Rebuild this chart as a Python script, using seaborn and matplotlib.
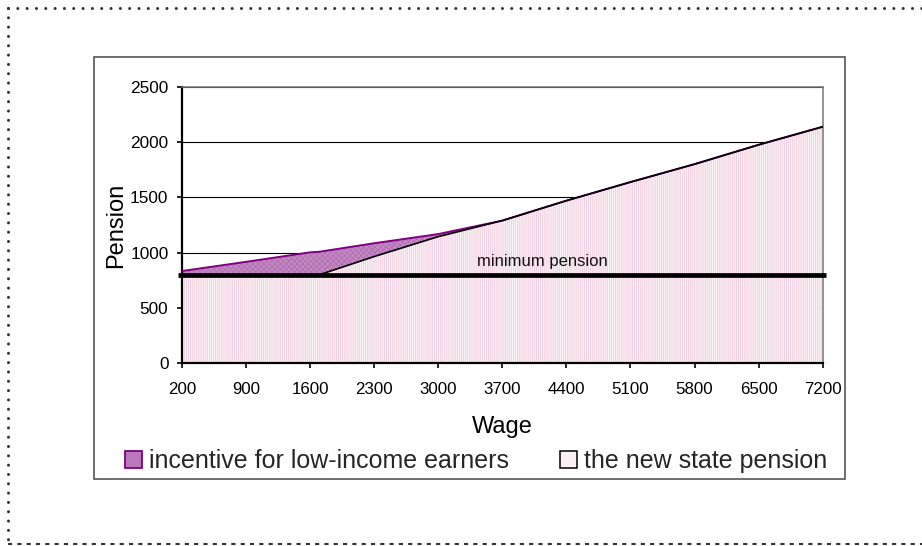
import matplotlib
matplotlib.use("Agg")
import matplotlib.pyplot as plt
from matplotlib.patches import Patch, Rectangle
from matplotlib.lines import Line2D
import seaborn as sns
import pandas as pd

# Wage grid (monthly wage) and pension amounts
wage = [200, 900, 1600, 1700, 2300, 3000, 3700, 4400, 5100, 5800, 6500, 7200]
state_pension = [800, 800, 800, 800, 965, 1145, 1290, 1470, 1638, 1800, 1975, 2138]
incentive = [34, 117, 203, 208, 120, 23, 0, 0, 0, 0, 0, 0]
minimum_pension = 800

wage_ticks = [200, 900, 1600, 2300, 3000, 3700, 4400, 5100, 5800, 6500, 7200]
pension_ticks = [0, 500, 1000, 1500, 2000, 2500]

series_labels = ["incentive for low-income earners", "the new state pension"]

df = pd.DataFrame({"wage": wage, "state": state_pension, "incentive": incentive})
df["total"] = df["state"] + df["incentive"]

sns.set_theme(style="white")
plt.rcParams["font.family"] = ["Liberation Sans", "DejaVu Sans"]
plt.rcParams["lines.scale_dashes"] = False
plt.rcParams["hatch.linewidth"] = 0.6

PINK_HATCH = "#f0cadb"
PURPLE_FACE = "#c489c4"
PURPLE_HATCH = "#b06fb0"
PURPLE_LINE = "#800080"

fig = plt.figure(figsize=(9.22, 5.46), dpi=100)
W, H = 922, 546

# page border (dotted) and chart frame
fig.add_artist(Line2D([8 / W, 1.0], [1 - 8 / H, 1 - 8 / H], color="#333333", lw=2.2,
                      linestyle=(0, (0.01, 6.7)), dash_capstyle="round"))
fig.add_artist(Line2D([8 / W, 8 / W], [1 - 8 / H, 1 - 544 / H], color="#333333", lw=2.2,
                      linestyle=(0, (0.01, 6.7)), dash_capstyle="round"))
fig.add_artist(Line2D([8 / W, 1.0], [1 - 544 / H, 1 - 544 / H], color="#333333", lw=1.5,
                      linestyle=(0, (3.0, 3.7))))
fig.add_artist(Rectangle((94 / W, 1 - 479 / H), (845 - 94) / W, (479 - 57) / H,
                         fill=False, edgecolor="#555555", lw=1.2, transform=fig.transFigure))

ax = fig.add_axes([182 / W, 1 - 363.3 / H, (822.7 - 182) / W, (363.3 - 86.7) / H])
ax.set_facecolor("white")

# stacked areas: state pension below, incentive on top
ax.fill_between(df["wage"], 0, df["state"], facecolor="#fbf3f6", edgecolor=PINK_HATCH,
                hatch="|" * 8, linewidth=0, zorder=1)
ax.fill_between(df["wage"], df["state"], df["total"], facecolor=PURPLE_FACE,
                edgecolor=PURPLE_HATCH, hatch="x" * 6, linewidth=0, zorder=1)

sns.lineplot(data=df, x="wage", y="total", ax=ax, color=PURPLE_LINE, lw=1.4, zorder=3)
sns.lineplot(data=df, x="wage", y="state", ax=ax, color="black", lw=1.2, zorder=3.5)

ax.axhline(minimum_pension, xmin=-0.007, xmax=1.005, color="black", lw=3.4,
           clip_on=False, zorder=4, solid_capstyle="butt")
ax.text(3420, minimum_pension + 80, "minimum pension", fontsize=12, ha="left",
        va="baseline", color="#111111", zorder=5)

ax.set_xlim(wage_ticks[0], wage_ticks[-1])
ax.set_ylim(pension_ticks[0], pension_ticks[-1])
ax.set_xticks(wage_ticks)
ax.set_xticklabels([str(v) for v in wage_ticks])
ax.set_yticks(pension_ticks)
ax.yaxis.grid(True, color="black", lw=0.8)
ax.xaxis.grid(False)
ax.set_axisbelow(True)

ax.tick_params(axis="x", bottom=True, direction="out", length=3.5, width=1.2,
               pad=10, labelsize=12.2, colors="black")
ax.tick_params(axis="y", left=True, direction="out", length=3.3, width=1.2,
               pad=6.5, labelsize=12.4, colors="black")

for side in ("left", "bottom"):
    ax.spines[side].set_color("black")
    ax.spines[side].set_linewidth(1.6)
for side in ("top", "right"):
    ax.spines[side].set_color("#777777")
    ax.spines[side].set_linewidth(1.1)

ax.set_xlabel("Wage", fontsize=17, labelpad=14, color="black")
ax.set_ylabel("Pension", fontsize=17, labelpad=2, color="black")

handles = [
    Patch(facecolor="#b978b9", edgecolor=PURPLE_LINE, lw=1.3),
    Patch(facecolor="#fbf0f4", edgecolor="black", lw=1.1),
]
fig.legend(handles, series_labels, loc="center left",
           bbox_to_anchor=(125 / W, 1 - 461 / H), ncol=2, frameon=False, fontsize=18,
           handlelength=0.66, handleheight=0.68, handletextpad=0.3, columnspacing=2.04,
           borderpad=0, borderaxespad=0)

fig.savefig("out.png", dpi=100)
